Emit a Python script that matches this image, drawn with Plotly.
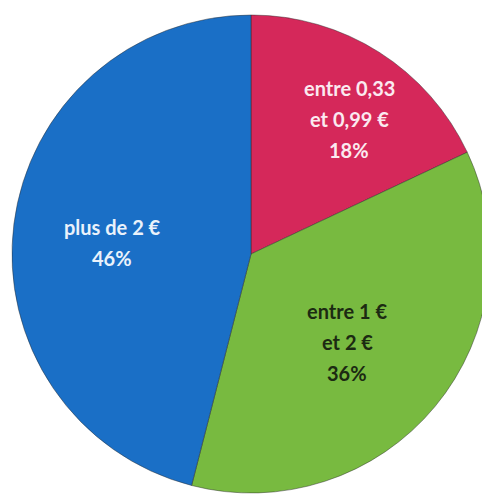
import plotly.graph_objects as go

categories = ["entre 0,33 et 0,99 €", "entre 1 € et 2 €", "plus de 2 €"]
values = [18, 36, 46]
colors = ["#D5285A", "#78BA40", "#1A6FC6"]

label_lines = [
    ["entre 0,33", "et 0,99 €", "18%"],
    ["entre 1 €", "et 2 €", "36%"],
    ["plus de 2 €", "46%"],
]
label_colors = ["#FBEAF0", "#1C2A12", "#EAF2FB"]
# label block centres (pixels within figure) and line spacing
label_centres = [(341, 111), (339, 334), (104, 234)]
line_gap = 31

W, H = 490, 497
cx, cy, r = 243, 246, 239

fig = go.Figure(go.Pie(
    labels=categories,
    values=values,
    sort=False,
    direction="clockwise",
    rotation=0,
    marker=dict(colors=colors, line=dict(color="rgba(40,40,40,0.45)", width=1)),
    textinfo="none",
    hoverinfo="label+percent",
    showlegend=False,
    domain=dict(x=[max(0, (cx - r) / W), min(1, (cx + r) / W)],
                y=[(H - cy - r) / H, (H - cy + r) / H]),
))

annotations = []
for lines, col, (lx, ly) in zip(label_lines, label_colors, label_centres):
    n = len(lines)
    for i, t in enumerate(lines):
        yy = ly + (i - (n - 1) / 2) * line_gap
        annotations.append(dict(
            x=lx / W, y=1 - yy / H, xref="paper", yref="paper",
            text="<b>" + t + "</b>", showarrow=False,
            font=dict(family="Lato, Open Sans, sans-serif", size=20, color=col),
            xanchor="center", yanchor="middle",
        ))

fig.update_layout(
    width=W, height=H,
    margin=dict(l=0, r=0, t=0, b=0),
    paper_bgcolor="white",
    plot_bgcolor="white",
    annotations=annotations,
)

fig.write_html("out.html")
